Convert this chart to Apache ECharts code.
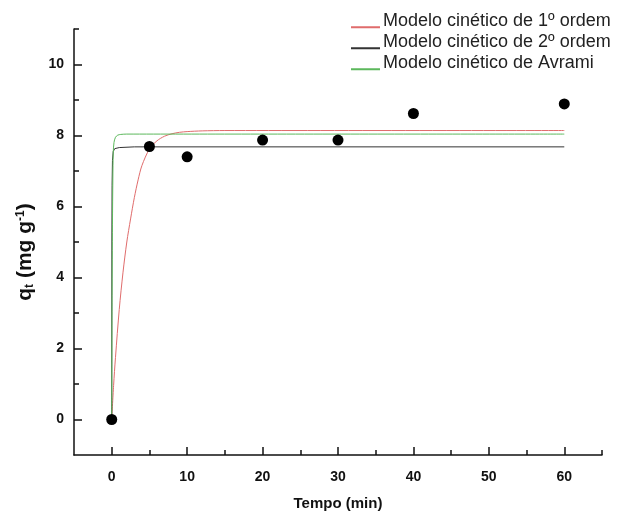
<!DOCTYPE html>
<html>
<head>
<meta charset="utf-8">
<script src="https://cdn.jsdelivr.net/npm/echarts@6/dist/echarts.min.js"></script>
<style>
  html, body { margin: 0; padding: 0; background: #fff; }
  #chart { width: 617px; height: 514px; }
</style>
</head>
<body>
<div id="chart"></div>
<script>
// Measured adsorption capacity over time
const timeMin = [0, 5, 10, 20, 30, 40, 60];
const qtMeasured = [0, 7.69, 7.40, 7.87, 7.87, 8.62, 8.89];

// Fitted kinetic curves (time in min, q in mg/g)
const firstOrderT = [0, 0.25, 0.5, 1, 1.5, 2, 2.5, 3, 3.5, 4, 5, 6, 7, 8, 9, 10, 12, 15, 60];
const firstOrderQ = [0, 0.96, 1.75, 3.1, 4.15, 5.0, 5.65, 6.25, 6.75, 7.15, 7.62, 7.85, 7.98, 8.05, 8.09, 8.11, 8.13, 8.14, 8.14];

const secondOrderT = [0, 0.02, 0.05, 0.1, 0.2, 0.4, 1, 3, 60];
const secondOrderQ = [0, 5.0, 6.6, 7.3, 7.55, 7.63, 7.66, 7.68, 7.68];

const avramiT = [0, 0.05, 0.1, 0.15, 0.2, 0.3, 0.5, 0.8, 1.2, 2, 60];
const avramiQ = [0, 3.5, 5.5, 6.8, 7.5, 7.8, 7.95, 8.01, 8.03, 8.04, 8.04];

// Axis tick positions
const xMajorTicks = [0, 10, 20, 30, 40, 50, 60];
const xMinorTicks = [5, 15, 25, 35, 45, 55, 65];
const yMajorTicks = [0, 2, 4, 6, 8, 10];
const yMinorTicks = [1, 3, 5, 7, 9, 11];

const seriesNames = [
  'Modelo cinético de 1º ordem',
  'Modelo cinético de 2º ordem',
  'Modelo cinético de Avrami'
];

const pairs = (xs, ys) => xs.map((x, i) => [x, ys[i]]);

const FONT = '"Liberation Sans", Arial, sans-serif';
const axisLineStyle = { color: '#111', width: 1.5 };

// Legend key: a short stroke sitting under the text baseline
const underlineIcon = 'path://M0,0L29,0L29,0.01L0,0.01Z M0,12.6L29,12.6L29,14.6L0,14.6Z';

const chart = echarts.init(document.getElementById('chart'), null, { renderer: 'canvas' });

chart.setOption({
  animation: false,
  backgroundColor: '#fff',
  grid: { left: 74, right: 15, top: 29, bottom: 59, containLabel: false, outerBoundsMode: 'none' },
  legend: {
    orient: 'vertical',
    left: 346,
    top: 7,
    itemWidth: 29,
    itemHeight: 14.6,
    itemGap: 3,
    icon: underlineIcon,
    data: seriesNames,
    textStyle: {
      fontFamily: FONT,
      fontSize: 18,
      lineHeight: 18,
      color: '#222',
      padding: [0, 0, 0, -2]
    },
    selectedMode: false
  },
  xAxis: [
    {
      type: 'value',
      min: -5,
      max: 65,
      position: 'bottom',
      name: 'Tempo (min)',
      nameLocation: 'middle',
      nameGap: 41,
      nameTextStyle: { fontFamily: FONT, fontSize: 15, fontWeight: 'bold', color: '#111' },
      axisLine: { show: true, onZero: false, lineStyle: axisLineStyle },
      axisTick: { show: true, inside: true, length: 8, customValues: xMajorTicks, lineStyle: axisLineStyle },
      axisLabel: { customValues: xMajorTicks, margin: 15, fontFamily: FONT, fontSize: 14, fontWeight: 'bold', color: '#111' },
      splitLine: { show: false }
    },
    {
      type: 'value',
      min: -5,
      max: 65,
      position: 'bottom',
      axisLine: { show: false, onZero: false },
      axisTick: { show: true, inside: true, length: 5, customValues: xMinorTicks, lineStyle: axisLineStyle },
      axisLabel: { show: false },
      splitLine: { show: false }
    }
  ],
  yAxis: [
    {
      type: 'value',
      min: -1,
      max: 11,
      position: 'left',
      name: '{b|q}{sub|t}{b| (mg g}{sup|-1}{b|)}',
      nameLocation: 'middle',
      nameRotate: 90,
      nameGap: 38,
      nameTextStyle: {
        fontFamily: FONT,
        color: '#111',
        padding: [0, 20, 0, 0],
        rich: {
          b: { fontFamily: FONT, fontSize: 21, fontWeight: 'bold', color: '#111' },
          sub: { fontFamily: FONT, fontSize: 12, fontWeight: 'bold', color: '#111', verticalAlign: 'bottom', padding: [8, 0, 0, 0] },
          sup: { fontFamily: FONT, fontSize: 12, fontWeight: 'bold', color: '#111', verticalAlign: 'top', padding: [0, 0, 8, 0] }
        }
      },
      axisLine: { show: true, onZero: false, lineStyle: axisLineStyle },
      axisTick: { show: true, inside: true, length: 8, customValues: yMajorTicks, lineStyle: axisLineStyle },
      axisLabel: { customValues: yMajorTicks, margin: 10, fontFamily: FONT, fontSize: 14, fontWeight: 'bold', color: '#111' },
      splitLine: { show: false }
    },
    {
      type: 'value',
      min: -1,
      max: 11,
      position: 'left',
      axisLine: { show: false, onZero: false },
      axisTick: { show: true, inside: true, length: 5, customValues: yMinorTicks, lineStyle: axisLineStyle },
      axisLabel: { show: false },
      splitLine: { show: false }
    }
  ],
  series: [
    {
      name: seriesNames[0],
      type: 'line',
      data: pairs(firstOrderT, firstOrderQ),
      smooth: 0.3,
      showSymbol: false,
      symbol: 'none',
      color: '#e06c6c',
      lineStyle: { color: '#e06c6c', width: 1 },
      z: 2
    },
    {
      name: seriesNames[1],
      type: 'line',
      data: pairs(secondOrderT, secondOrderQ),
      showSymbol: false,
      symbol: 'none',
      color: '#333',
      lineStyle: { color: '#333', width: 1 },
      z: 3
    },
    {
      name: seriesNames[2],
      type: 'line',
      data: pairs(avramiT, avramiQ),
      smooth: 0.3,
      showSymbol: false,
      symbol: 'none',
      color: '#5cb85c',
      lineStyle: { color: '#5cb85c', width: 1 },
      z: 3
    },
    {
      name: 'Dados experimentais',
      type: 'scatter',
      data: pairs(timeMin, qtMeasured),
      symbol: 'circle',
      symbolSize: 11,
      itemStyle: { color: '#000', opacity: 1 },
      z: 5
    }
  ]
});
</script>
</body>
</html>
